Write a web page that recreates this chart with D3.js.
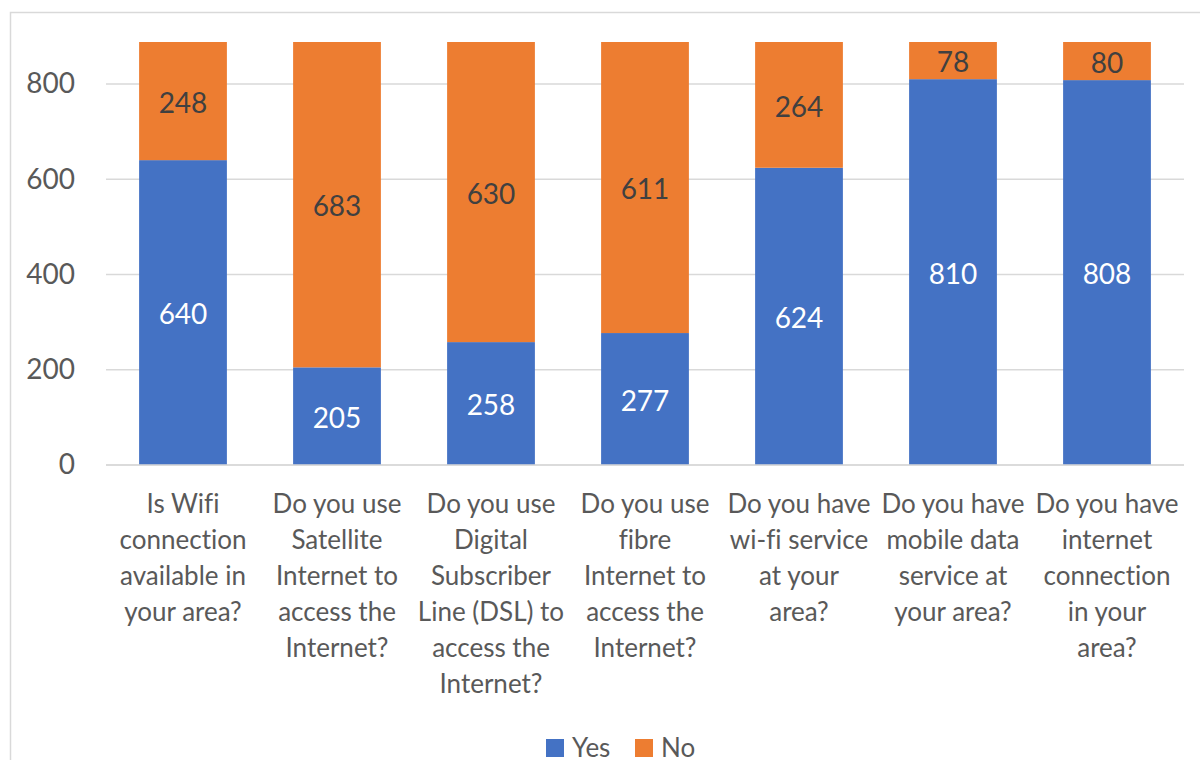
<!DOCTYPE html>
<html><head><meta charset="utf-8">
<script src="https://cdn.jsdelivr.net/npm/d3@7"></script>
<style>body{margin:0;background:#fff;}svg{display:block;}text{font-variant-ligatures:none;}</style>
</head><body>
<svg id="c" width="1200" height="760"></svg>
<script>
const categories = [
  ["Is Wifi","connection","available in","your area?"],
  ["Do you use","Satellite","Internet to","access the","Internet?"],
  ["Do you use","Digital","Subscriber","Line (DSL) to","access the","Internet?"],
  ["Do you use","fibre","Internet to","access the","Internet?"],
  ["Do you have","wi-fi service","at your","area?"],
  ["Do you have","mobile data","service at","your area?"],
  ["Do you have","internet","connection","in your","area?"]
];
const yesValues = [640, 205, 258, 277, 624, 810, 808];
const noValues  = [248, 683, 630, 611, 264, 78, 80];
const yTicks = [0, 200, 400, 600, 800];
const seriesNames = ["Yes", "No"];
const colors = ["#4472C4", "#ED7D31"];

const svg = d3.select("#c");
const font = "Lato, 'Open Sans', sans-serif";
const plotL = 106, plotR = 1184, plotT = 42, plotB = 465;

svg.append("rect").attr("x",10.5).attr("y",12.5).attr("width",1200).attr("height",760)
  .attr("fill","none").attr("stroke","#d9d9d9").attr("stroke-width",1.5);

const idx = d3.range(categories.length);
const x = d3.scaleBand().domain(idx).range([plotL, plotR]).paddingInner(0.43).paddingOuter(0.215);
const y = d3.scaleLinear().domain([0, 888]).range([plotB, plotT]);

// gridlines
svg.append("g").selectAll("line").data(yTicks).join("line")
  .attr("x1", plotL).attr("x2", plotR)
  .attr("y1", d => y(d)).attr("y2", d => y(d))
  .attr("stroke", "#d9d9d9").attr("stroke-width", 1.5);

// y axis labels
const yAxis = d3.axisLeft(y).tickValues(yTicks).tickSize(0).tickPadding(0);
const ga = svg.append("g").attr("transform", `translate(75,0)`).call(yAxis);
ga.select(".domain").remove();
ga.selectAll("text").attr("font-family", font).attr("font-size", 28).attr("fill", "#595959");

const stackData = idx.map(i => ({i, Yes: yesValues[i], No: noValues[i]}));
const stack = d3.stack().keys(seriesNames)(stackData);

const g = svg.append("g");
stack.forEach((s, si) => {
  g.append("g").selectAll("rect").data(s).join("rect")
    .attr("x", d => x(d.data.i)).attr("width", x.bandwidth())
    .attr("y", d => y(d[1])).attr("height", d => y(d[0]) - y(d[1]))
    .attr("fill", colors[si]);
  g.append("g").selectAll("text").data(s).join("text")
    .attr("x", d => x(d.data.i) + x.bandwidth()/2)
    .attr("y", d => (y(d[0]) + y(d[1]))/2)
    .attr("dy", "0.42em")
    .attr("text-anchor", "middle")
    .attr("font-family", font).attr("font-size", 28)
    .attr("fill", si === 0 ? "#ffffff" : "#404040")
    .text(d => d[1] - d[0]);
});

// zero line
svg.append("line").attr("x1", plotL).attr("x2", plotR).attr("y1", y(0)).attr("y2", y(0))
  .attr("stroke", "#d9d9d9").attr("stroke-width", 1.5);

// category labels
const cg = svg.append("g");
categories.forEach((lines, i) => {
  const t = cg.append("text").attr("text-anchor", "middle")
    .attr("font-family", font).attr("font-size", 26).attr("fill", "#595959");
  lines.forEach((ln, j) => {
    t.append("tspan").attr("x", x(i) + x.bandwidth()/2).attr("y", 513 + j*36).text(ln);
  });
});

// legend
const lg = svg.append("g");
const legX = [546, 635];
seriesNames.forEach((n, i) => {
  lg.append("rect").attr("x", legX[i]).attr("y", 739).attr("width", 18).attr("height", 18).attr("fill", colors[i]);
  lg.append("text").attr("x", legX[i] + 26).attr("y", 757).attr("font-family", font).attr("font-size", 26)
    .attr("fill", "#595959").text(n);
});
</script>
</body></html>
